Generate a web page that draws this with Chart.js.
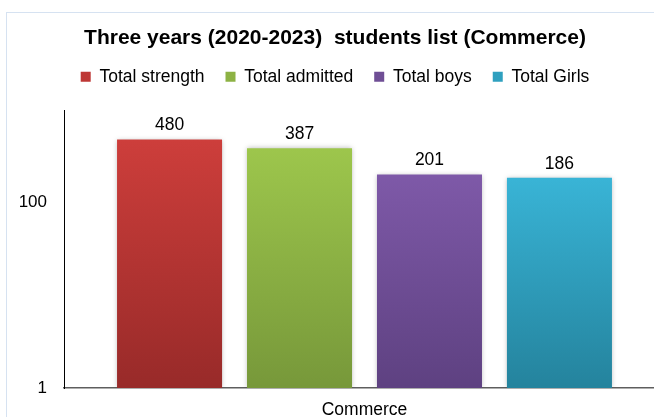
<!DOCTYPE html>
<html><head><meta charset="utf-8">
<script src="https://cdn.jsdelivr.net/npm/chart.js@4.4.1/dist/chart.umd.min.js"></script>
<style>
html,body{margin:0;padding:0;background:#fff;overflow:hidden;width:654px;height:417px;}
#frame{position:absolute;left:6px;top:12px;width:700px;height:500px;border-left:1px solid #D6E2F1;border-top:1px solid #D6E2F1;}
#wrap{position:absolute;left:5px;top:0;width:660px;height:433px;}
</style></head><body>
<div id="frame"></div>
<div id="wrap"><canvas id="c"></canvas></div>
<script>
const categories = ['Commerce'];
const seriesNames = ['Total strength', 'Total admitted', 'Total boys', 'Total Girls'];
const totalStrength = [480];
const totalAdmitted = [387];
const totalBoys = [201];
const totalGirls = [186];
const yTickValues = [1, 100];
const titleText = 'Three years (2020-2023)  students list (Commerce)';
const topColors = ['#CD3E3B', '#9DC64C', '#7E59A8', '#39B4D6'];
const bottomColors = ['#982A29', '#77983A', '#5E4181', '#24839D'];
const midColors = ['#BE3735', '#8DB244', '#6F4E95', '#2FA0BF'];

const FONT = "'Liberation Sans', Arial, sans-serif";
Chart.defaults.font.family = FONT;
Chart.defaults.color = '#000';

const seriesValues = [totalStrength, totalAdmitted, totalBoys, totalGirls];

function gradientFill(i) {
  return function (ctx) {
    const chart = ctx.chart;
    const area = chart.chartArea;
    if (!area || ctx.type !== 'data' || !chart.scales.y) return midColors[i];
    const top = chart.scales.y.getPixelForValue(ctx.raw);
    const g = chart.ctx.createLinearGradient(0, top, 0, area.bottom);
    g.addColorStop(0, topColors[i]);
    g.addColorStop(1, bottomColors[i]);
    return g;
  };
}

const shadowPlugin = {
  id: 'barShadow',
  beforeDatasetDraw(chart) {
    const c = chart.ctx;
    c.save();
    c.shadowColor = 'rgba(0,0,0,0.28)';
    c.shadowBlur = 5;
    c.shadowOffsetX = 0;
    c.shadowOffsetY = 0;
  },
  afterDatasetDraw(chart) {
    chart.ctx.restore();
  }
};

const labelPlugin = {
  id: 'valueLabels',
  afterDatasetsDraw(chart) {
    const c = chart.ctx;
    c.save();
    c.font = '17.5px ' + FONT;
    c.fillStyle = '#000';
    c.textAlign = 'center';
    c.textBaseline = 'middle';
    chart.data.datasets.forEach((ds, di) => {
      const meta = chart.getDatasetMeta(di);
      meta.data.forEach((el, i) => {
        c.fillText(String(ds.data[i]), el.x, el.y - 14);
      });
    });
    c.restore();
  }
};

new Chart(document.getElementById('c'), {
  type: 'bar',
  data: {
    labels: categories,
    datasets: seriesNames.map((name, i) => ({
      label: name,
      data: seriesValues[i],
      backgroundColor: gradientFill(i),
      borderWidth: 0,
      categoryPercentage: 0.865,
      barPercentage: 0.808
    }))
  },
  options: {
    responsive: true,
    maintainAspectRatio: false,
    animation: false,
    layout: { padding: 0 },
    plugins: {
      tooltip: { enabled: false },
      title: {
        display: true,
        text: titleText,
        color: '#000',
        font: { size: 21, weight: 'bold', lineHeight: 0.8 },
        padding: { top: 30.3, bottom: 0 }
      },
      legend: {
        display: true,
        position: 'top',
        labels: {
          boxWidth: 10,
          boxHeight: 10,
          padding: 21,
          color: '#000',
          font: { size: 17.5 },
          generateLabels(chart) {
            return chart.data.datasets.map((ds, i) => ({
              text: ds.label,
              fillStyle: midColors[i],
              strokeStyle: midColors[i],
              lineWidth: 0,
              datasetIndex: i,
              hidden: false
            }));
          }
        }
      },
      subtitle: {
        display: true,
        text: ' ',
        position: 'top',
        weight: 500,
        font: { size: 12, lineHeight: 1.2 },
        padding: 0
      }
    },
    scales: {
      x: {
        type: 'category',
        z: 1,
        grid: { display: false, drawTicks: false },
        border: { display: true, color: '#5E5E5E', width: 1.5 },
        ticks: { color: '#000', font: { size: 17.5 }, padding: 12 }
      },
      y: {
        type: 'logarithmic',
        min: 1,
        max: 1000,
        grid: { display: false, drawTicks: false },
        border: { display: true, color: '#000', width: 1 },
        ticks: {
          color: '#000',
          font: { size: 17 },
          padding: 17,
          callback: (v) => String(v)
        },
        afterBuildTicks(axis) {
          axis.ticks = yTickValues.map(v => ({ value: v }));
        },
        afterFit(axis) {
          axis.width = 59;
        }
      }
    }
  },
  plugins: [shadowPlugin, labelPlugin]
});
</script>
</body></html>
